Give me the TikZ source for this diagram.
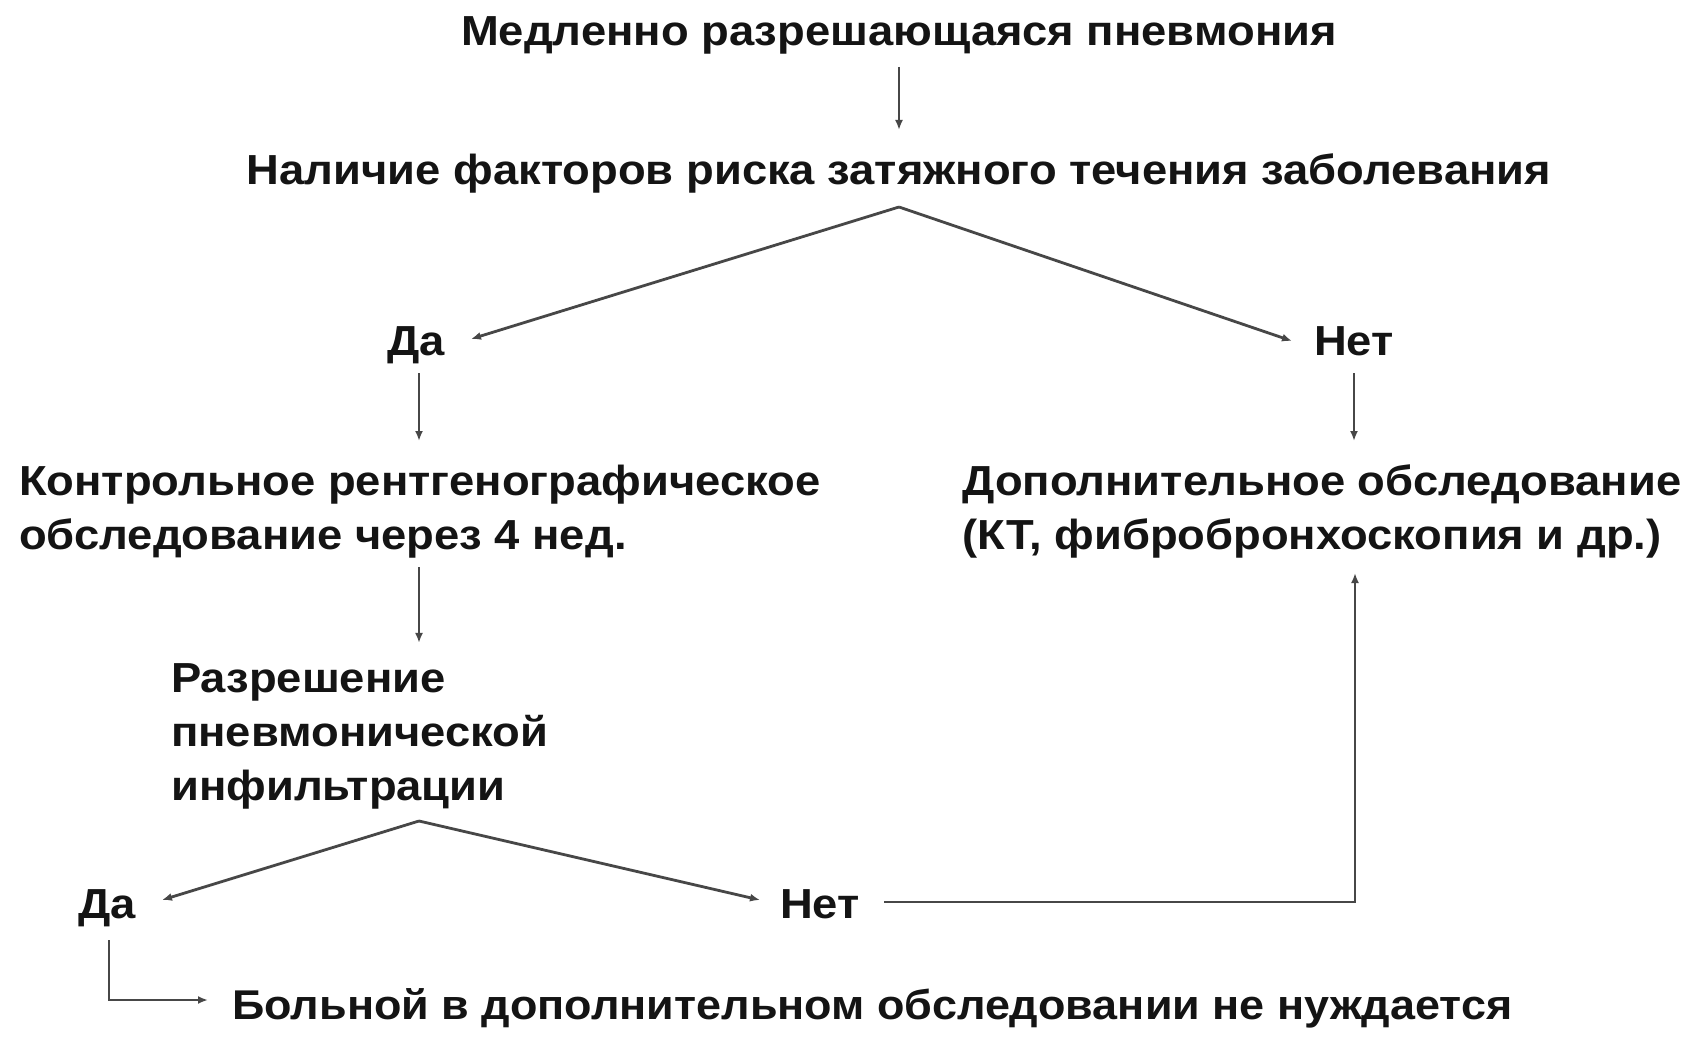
\documentclass[tikz,border=0pt]{standalone}
\usepackage{fontspec}
\setmainfont{Liberation Sans}[FakeStretch=1.08]
\usetikzlibrary{arrows.meta,calc}
\begin{document}
\begin{tikzpicture}[x=1pt,y=-1pt,
  txt/.style={inner sep=0pt, text=black!92, font=\bfseries\fontsize{42}{54}\selectfont, align=left},
  arr/.style={draw=black!72, line width=2.8pt, -{Latex[length=10pt,width=8pt]}}]
\useasboundingbox[fill=white] (0,0) rectangle (1694,1051);
\node[txt, anchor=base] (title) at (899,46) {Медленно разрешающаяся пневмония};
\node[txt, anchor=base] (q) at (899,185) {Наличие факторов риска затяжного течения заболевания};
\node[txt, anchor=base west] (yes1) at (387,355) {Да};
\node[txt, anchor=base west] (no1) at (1314,355) {Нет};
\node[txt, anchor=base west] (ctrl) at (19,549) {Контрольное рентгенографическое\\обследование через 4 нед.};
\node[txt, anchor=base west] (add) at (962,549) {Дополнительное обследование\\(КТ, фибробронхоскопия и др.)};
\node[txt, anchor=base west] (res) at (171,800) {Разрешение\\пневмонической\\инфильтрации};
\node[txt, anchor=base west] (yes2) at (78,918) {Да};
\node[txt, anchor=base west] (no2) at (780,918) {Нет};
\node[txt, anchor=base west, font=\bfseries\fontsize{41.6}{54}\selectfont] (none) at (232,1019) {Больной в дополнительном обследовании не нуждается};
% connectors
\coordinate (s1) at ($(q.base)+(0,22)$);
\coordinate (s2) at ($(res.base west)+(248,21)$);
\draw[arr] ($(title.base)+(0,21)$) -- ($(q.base)+(0,-55)$);
\draw[arr] (s1) -- ($(yes1.base west)+(84,-16)$);
\draw[arr] (s1) -- ($(no1.base west)+(-22,-14)$);
\draw[arr] ($(yes1.base west)+(32,18)$) -- ($(yes1.base west)+(32,86)$);
\draw[arr] ($(no1.base west)+(40,18)$) -- ($(no1.base west)+(40,86)$);
\draw[arr] ($(ctrl.base west)+(400,18)$) -- ($(res.north west)+(248,-20)$);
\draw[arr] (s2) -- ($(yes2.base west)+(84,-18)$);
\draw[arr] (s2) -- ($(no2.base west)+(-20,-18)$);
\draw[arr] ($(no2.base west)+(104,-16)$) -| ($(add.base west)+(393,24)$);
\draw[arr] ($(yes2.base west)+(31,22)$) |- ($(none.base west)+(-24,-19)$);
\end{tikzpicture}
\end{document}
